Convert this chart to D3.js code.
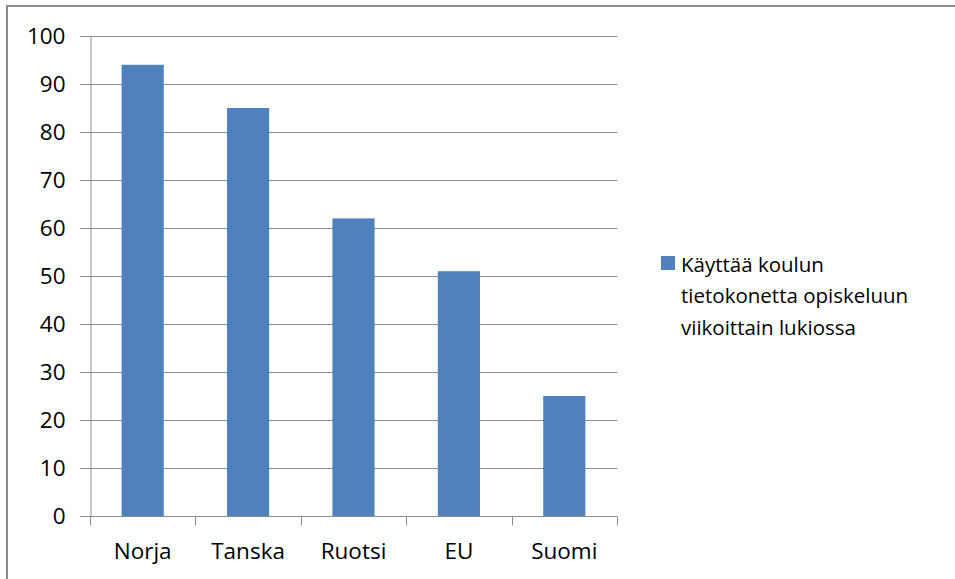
<!DOCTYPE html>
<html>
<head>
<meta charset="utf-8">
<script src="https://cdn.jsdelivr.net/npm/d3@7"></script>
<style>
  html, body { margin: 0; padding: 0; background: #fff; }
  svg { display: block; }
  text { font-family: "Open Sans", "Liberation Sans", sans-serif; fill: #000; }
</style>
</head>
<body>
<svg id="chart" width="955" height="579"></svg>
<script>
// Share of upper-secondary students using school computers weekly for study
const categories = ["Norja", "Tanska", "Ruotsi", "EU", "Suomi"];
const values = [94, 85, 62, 51, 25];
const yTicks = [0, 10, 20, 30, 40, 50, 60, 70, 80, 90, 100];
const seriesName = ["Käyttää koulun", "tietokonetta opiskeluun", "viikoittain lukiossa"];

const svg = d3.select("#chart");
const barColor = "#4F81BD";
const gridColor = "#8c8c8c";

// outer frame
svg.append("rect")
  .attr("x", 7).attr("y", 6)
  .attr("width", 960).attr("height", 600)
  .attr("fill", "none")
  .attr("stroke", "#8a8a8a")
  .attr("stroke-width", 2);

const plotLeft = 90, plotRight = 617, plotTop = 36, plotBottom = 516;

const x = d3.scaleBand().domain(categories).range([plotLeft, plotRight]).paddingInner(0.6).paddingOuter(0.3);
const xOuter = d3.scaleBand().domain(categories).range([plotLeft, plotRight]);
const y = d3.scaleLinear().domain([0, 100]).range([plotBottom, plotTop]);

// horizontal gridlines
svg.append("g").selectAll("line")
  .data(yTicks.filter(t => t > 0))
  .join("line")
  .attr("x1", plotLeft - 10).attr("x2", plotRight)
  .attr("y1", d => Math.round(y(d)) + 0.5).attr("y2", d => Math.round(y(d)) + 0.5)
  .attr("stroke", gridColor).attr("stroke-width", 1);

// y axis
const yAxis = svg.append("g")
  .attr("transform", `translate(${plotLeft + 0.5},0)`)
  .call(d3.axisLeft(y).tickValues(yTicks).tickSize(10).tickPadding(15));
yAxis.select(".domain").attr("stroke", gridColor);
yAxis.selectAll(".tick line").attr("stroke", gridColor);
yAxis.selectAll(".tick text").attr("font-size", 22.5).attr("fill", "#000")
  .style("font-family", "'Open Sans', 'Liberation Sans', sans-serif");

// bars
svg.append("g").selectAll("rect")
  .data(values)
  .join("rect")
  .attr("x", (d, i) => x(categories[i]))
  .attr("width", x.bandwidth())
  .attr("y", d => y(d))
  .attr("height", d => y(0) - y(d))
  .attr("fill", barColor);

// x axis with ticks at category boundaries
const xg = svg.append("g").attr("transform", `translate(0,${plotBottom + 0.5})`);
xg.append("line").attr("x1", plotLeft).attr("x2", plotRight).attr("stroke", gridColor);
xg.selectAll("line.tk")
  .data(categories.map(c => xOuter(c)).concat([plotRight]))
  .join("line")
  .attr("class", "tk")
  .attr("x1", d => Math.round(d) + 0.5).attr("x2", d => Math.round(d) + 0.5)
  .attr("y1", 0).attr("y2", 9)
  .attr("stroke", gridColor);
xg.selectAll("text")
  .data(categories)
  .join("text")
  .attr("x", d => xOuter(d) + xOuter.bandwidth() / 2)
  .attr("y", 42)
  .attr("text-anchor", "middle")
  .attr("font-size", 22.5)
  .text(d => d);

// legend
const lg = svg.append("g");
lg.append("rect").attr("x", 661).attr("y", 256).attr("width", 14).attr("height", 14).attr("fill", barColor);
lg.selectAll("text")
  .data(seriesName)
  .join("text")
  .attr("x", 681)
  .attr("y", (d, i) => 271.5 + i * 31.7)
  .attr("font-size", 20.5)
  .text(d => d);
</script>
</body>
</html>
